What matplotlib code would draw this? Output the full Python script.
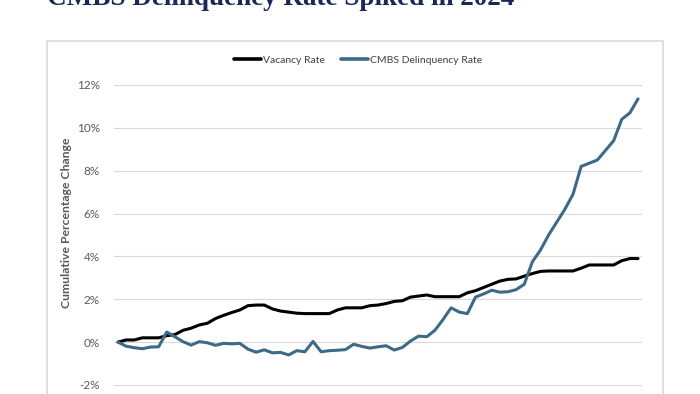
import matplotlib as mpl
mpl.use("Agg")
import matplotlib.pyplot as plt
from matplotlib.patches import Rectangle
from matplotlib.ticker import FuncFormatter

# cumulative percentage change, one point per period
vacancy = [0.0, 0.1, 0.1, 0.2, 0.2, 0.2, 0.3, 0.35, 0.55, 0.65,
           0.8, 0.88, 1.1, 1.25, 1.38, 1.5, 1.7, 1.73, 1.73, 1.55,
           1.45, 1.4, 1.35, 1.33, 1.33, 1.33, 1.33, 1.5, 1.6, 1.6,
           1.6, 1.7, 1.73, 1.8, 1.9, 1.93, 2.1, 2.15, 2.2, 2.12,
           2.12, 2.12, 2.12, 2.3, 2.4, 2.55, 2.7, 2.85, 2.93, 2.95,
           3.08, 3.2, 3.3, 3.32, 3.32, 3.32, 3.32, 3.45, 3.6, 3.6,
           3.6, 3.6, 3.8, 3.9, 3.9]
cmbs = [0.0, -0.19, -0.26, -0.31, -0.23, -0.22, 0.47, 0.25, 0.02, -0.14,
        0.02, -0.03, -0.15, -0.06, -0.08, -0.06, -0.33, -0.47, -0.36, -0.5,
        -0.48, -0.6, -0.4, -0.45, 0.03, -0.45, -0.4, -0.38, -0.35, -0.1,
        -0.2, -0.28, -0.22, -0.17, -0.37, -0.25, 0.05, 0.28, 0.25, 0.55,
        1.05, 1.6, 1.4, 1.33, 2.1, 2.25, 2.42, 2.33, 2.35, 2.45,
        2.7, 3.75, 4.3, 5.0, 5.6, 6.2, 6.9, 8.2, 8.35, 8.5,
        8.95, 9.4, 10.4, 10.7, 11.35]
yticks = [-2, 0, 2, 4, 6, 8, 10, 12]

W, H = 700, 394
fig = plt.figure(figsize=(7, 3.94), dpi=100)

# title, cropped at the top like the source
fig.text(47 / W, 1 - 5 / H, "CMBS Delinquency Rate Spiked in 2024", family="Liberation Serif",
         fontweight="bold", fontsize=19.5, color="#1a2857", va="baseline", ha="left")

# chart frame
fig.patches.append(Rectangle((47 / W, -0.1), 616 / W, 1.1 - 41 / H, transform=fig.transFigure,
                             fill=False, ec="#d9d9d9", lw=1.2))

ax = fig.add_axes([114 / W, 6.9 / H, 528 / W, 0.7722])
x = list(range(len(vacancy)))
ax.plot(x, vacancy, color="black", lw=2.2, label="Vacancy Rate", solid_capstyle="round")
ax.plot(x, cmbs, color="#3d6a86", lw=2.2, label="CMBS Delinquency Rate", solid_capstyle="round")

ax.set_xlim(-0.49, len(x) - 1 + 0.49)
ax.set_ylim(-2.1, 12.1)
ax.set_yticks(yticks)
ax.yaxis.set_major_formatter(FuncFormatter(lambda v, p: f"{v:.0f}%"))
ax.set_xticks([])
ax.grid(axis="y", color="#d9d9d9", lw=0.8)
ax.set_axisbelow(True)
for s in ax.spines.values():
    s.set_visible(False)
ax.tick_params(axis="y", length=0, pad=10, labelsize=8.5, labelcolor="#595959")
for t in ax.get_yticklabels():
    t.set_family("Lato")

fig.text(67 / W, 1 - 223 / H, "Cumulative Percentage Change", rotation=90, family="Lato",
         fontweight="bold", fontsize=8.8, color="#595959", ha="center", va="center")

leg = fig.legend(loc="center", bbox_to_anchor=(358 / W, 1 - 60 / H), ncol=2, frameon=False,
                 prop={"family": "Lato", "size": 7.5}, handlelength=2.6, handletextpad=0.2,
                 columnspacing=1.6, labelcolor="#404040")
for h in leg.get_lines():
    h.set_linewidth(2.6)

fig.savefig("out.png", dpi=100)
